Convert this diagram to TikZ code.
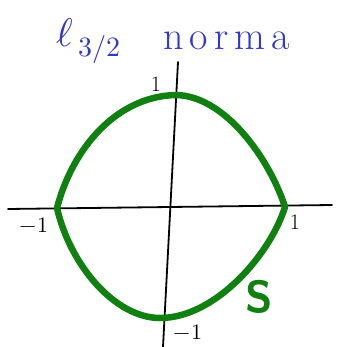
\documentclass[tikz,border=0pt]{standalone}
\usepackage{fontspec}
\usepackage{unicode-math}
\usetikzlibrary{positioning}
\definecolor{normblue}{RGB}{50,55,205}
\definecolor{ballgreen}{RGB}{16,128,16}

\begin{document}
\begin{tikzpicture}[x=1pt, y=-1pt, axis/.style={draw=black, line width=1.8pt, line cap=round}, ball/.style={draw=ballgreen, line width=6.5pt, line join=round}, tick/.style={font=\fontsize{22}{22}\selectfont, inner sep=0pt}, title/.style={text=normblue, font=\fontsize{40}{40}\selectfont, anchor=base west, inner sep=0pt}]
\useasboundingbox (0,0) rectangle (341,347);
\coordinate (xl) at (8,209);
\coordinate (xr) at (332,205);
\coordinate (yt) at (178,62);
\coordinate (yb) at (163,347);
\draw[axis] (xl)--(xr);
\draw[axis] (yt)--(yb);
% unit ball
\coordinate (w) at (57,208);
\coordinate (n) at (175,95);
\coordinate (e) at (285,207);
\coordinate (s) at (160,318);
\draw[ball] (w) .. controls (72,150) and (115,97) .. (n) .. controls (225,95) and (270,160) .. (e) .. controls (270,255) and (215,318) .. (s) .. controls (115,318) and (70,265) .. cycle;
\node[tick] (ly1) at (156,84) {1};
\node[tick] (lx0) at (34,225) {$-1$};
\node[tick] (lx1) at (295,222) {1};
\node[tick] (ly0) at (188,332) {$-1$};
\node[font=\fontsize{45}{45}\selectfont\sffamily\bfseries, text=ballgreen, inner sep=0pt] (S) at (259,297) {S};
% title
\node[title] (ell) at (56,47) {$\ell_{\kern6pt 3/2}$};
\node[title] (norma) at (163,50) {n\kern6pt o\kern6pt r\kern6pt m\kern6pt a};
\end{tikzpicture}
\end{document}
